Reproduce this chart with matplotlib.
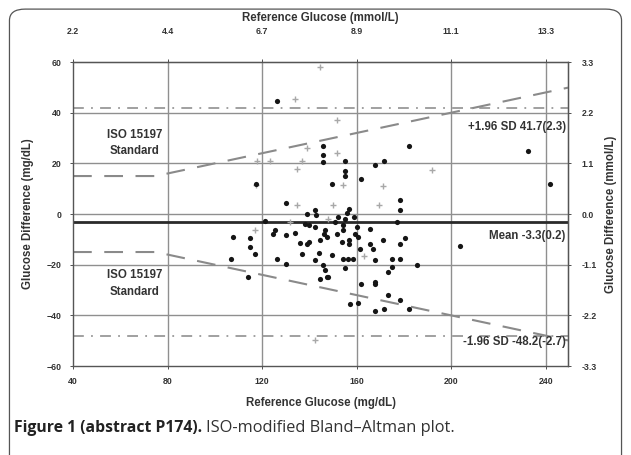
"""
ISO-modified Bland-Altman plot (glucose difference vs reference glucose).
Export: out.png
"""

import matplotlib
matplotlib.use("Agg")
import matplotlib.pyplot as plt
from matplotlib.patches import FancyBboxPatch

plt.rcParams["font.family"] = ["Liberation Sans", "DejaVu Sans"]

# reference glucose (mg/dL) / difference (mg/dL)
black_x = [126.4, 145.8, 145.8, 145.8, 155, 155, 182, 167.8, 171.6, 162, 232.6, 242,
           203.8, 130, 139, 142.4, 143, 149.6, 155, 121.3, 125.5, 124.7, 130, 134, 138,
           140, 142.4, 136, 139, 137, 144, 144.6, 147.5, 146.3, 146.7, 140, 142.4, 145.8,
           146.7, 144.6, 147.5, 154.3, 154.3, 159.4, 153.9, 157, 149.6, 154.3, 156.4,
           158.5, 151.7, 130, 126.4, 115, 115, 117, 107.7, 106.9, 114, 117.5, 178.4,
           178.4, 177, 165.7, 160.6, 155, 157, 161.5, 165.7, 167, 171.2, 180.5, 178.4,
           167.8, 175, 178.4, 185.6, 175, 173.3, 155, 167.8, 162, 148, 157.3, 160.6,
           167.8, 173.4, 178.4, 167.8, 171.6, 182.2, 160, 151, 152, 156, 157, 159]
black_y = [44.7, 27, 23.5, 20.4, 21, 17, 26.7, 19.2, 21, 13.7, 25, 11.8,
           -12.5, 4.3, 0, 1.6, -0.5, 11.8, 15, -2.8, -6.3, -7.8, -8.2, -7.5, -3.9,
           -4.3, -5, -11.4, -11.8, -15.7, -15.3, -10.2, -9, -7.8, -6.3, -11, -18, -20,
           -22, -25.5, -24.7, -4.3, -6.3, -7.8, -11, -10.2, -16, -17.6, -17.6,
           -17.6, -7.8, -19.6, -17.6, -9.4, -12.9, -15.7, -9, -17.6, -24.7, 11.8, 5.5,
           1.6, -3.1, -6, -9, -2, -11.8, -13.7, -12, -13.7, -10.2, -9.4, -11.8,
           -18, -17.6, -17.6, -20, -20.8, -23, -21.5, -26.7, -27.8, -25, -35.7, -35.3,
           -27.5, -31.8, -34, -38.4, -37.6, -37.6, -5, -3, -1, 0.5, 2, -1]

gray_x = [144.6, 134, 151.7, 139, 151.7, 123.4, 118, 135, 137, 192, 117.5, 135,
          154.3, 150, 132, 117, 171, 169.5, 163, 142.4, 148]
gray_y = [58, 45.5, 37.3, 26, 24, 20.8, 20.8, 17.6, 20.8, 17.3, 11.4, 3.5,
          11.4, 3.5, -3.1, -6.3, 11, 3.5, -16.5, -49.8, -2]

mean_diff = -3.3
sd_upper = 41.7
sd_lower = -48.2

# ISO 15197 limits: +/-15 mg/dL below 75 mg/dL, +/-20 % above
iso_x = [40, 75, 249.5]
iso_hi = [15, 15, 0.2 * 249.5]
iso_lo = [-15, -15, -0.2 * 249.5]

x_ticks = [40, 80, 120, 160, 200, 240]
y_ticks = [-60, -40, -20, 0, 20, 40, 60]


def mg_to_mmol(v):
    return v / 18.0


def mmol_to_mg(v):
    return v * 18.0


fig = plt.figure(figsize=(6.31, 4.55), dpi=100)
fig.patches.append(FancyBboxPatch((0.015, -0.05), 0.97, 1.03, boxstyle="round,pad=0,rounding_size=0.025",
                                  transform=fig.transFigure, fc="none", ec="#555555", lw=0.9,
                                  zorder=-1))

ax = fig.add_axes([0.1157, 0.1956, 0.7845, 0.668])
ax.set_xlim(40, 249.5)
ax.set_ylim(-60, 60)

grid_col = "#8f8f8f"
for v in x_ticks[1:]:
    ax.axvline(v, color=grid_col, lw=1.0, zorder=1)
for v in y_ticks[1:-1]:
    ax.axhline(v, color=grid_col, lw=1.0, zorder=1)

ax.axhline(mean_diff, color="#2a2a2a", lw=2.0, zorder=2)
ax.axhline(sd_upper, color="#999999", lw=1.3, ls=(0, (6, 4, 1, 4)), zorder=2)
ax.axhline(sd_lower, color="#999999", lw=1.3, ls=(0, (6, 4, 1, 4)), zorder=2)

ax.plot(iso_x, iso_hi, color="#8a8a8a", lw=1.5, ls=(0, (9, 6)), zorder=2)
ax.plot(iso_x, iso_lo, color="#8a8a8a", lw=1.5, ls=(0, (9, 6)), zorder=2)

ax.scatter(gray_x, gray_y, marker="+", s=22, color="#a8a8a8", lw=1.0, zorder=3)
ax.scatter(black_x, black_y, marker="o", s=14, color="#151515", lw=0, zorder=4)

txt = dict(fontsize=8.3, color="#333333", fontweight="bold")
ax.text(248.5, 34.5, "+1.96 SD 41.7(2.3)", ha="right", va="center", **txt)
ax.text(248.5, -8.8, "Mean -3.3(0.2)", ha="right", va="center", **txt)
ax.text(248.5, -50.6, "-1.96 SD -48.2(-2.7)", ha="right", va="center", **txt)
ax.text(66, 28, "ISO 15197\nStandard", ha="center", va="center", linespacing=1.5, **txt)
ax.text(66, -27.5, "ISO 15197\nStandard", ha="center", va="center", linespacing=1.5, **txt)

tick_kw = dict(labelsize=6.3, length=2, width=0.6, colors="#333333")
lab_kw = dict(fontsize=8.3, fontweight="bold", color="#333333")

ax.set_xticks(x_ticks)
ax.set_yticks(y_ticks)
ax.tick_params(pad=6, **tick_kw)
for lab in ax.get_xticklabels() + ax.get_yticklabels():
    lab.set_fontweight("bold")
for s in ax.spines.values():
    s.set_color("#555555")
    s.set_linewidth(1.0)

ax.set_xlabel("Reference Glucose (mg/dL)", labelpad=8, **lab_kw)
ax.set_ylabel("Glucose Difference (mg/dL)", labelpad=9, **lab_kw)

top = ax.secondary_xaxis("top", functions=(mg_to_mmol, mmol_to_mg))
top.set_xticks([mg_to_mmol(v) for v in x_ticks])
top.set_xticklabels([f"{mg_to_mmol(v):.1f}" for v in x_ticks])
top.tick_params(pad=17, **tick_kw)
top.set_xlabel("Reference Glucose (mmol/L)", labelpad=4, **lab_kw)

right = ax.secondary_yaxis("right", functions=(mg_to_mmol, mmol_to_mg))
right.set_yticks([mg_to_mmol(v) for v in y_ticks])
right.set_yticklabels([f"{mg_to_mmol(v):.1f}" for v in y_ticks])
right.tick_params(pad=8, **tick_kw)
right.set_ylabel("Glucose Difference (mmol/L)", labelpad=6, **lab_kw)
for lab in top.get_xticklabels() + right.get_yticklabels():
    lab.set_fontweight("bold")

# caption: bold lead + regular rest
cap_font = ["Open Sans", "DejaVu Sans"]
t1 = fig.text(0.022, 0.059, "Figure 1 (abstract P174).", fontsize=11.3, fontweight="bold",
              family=cap_font, color="#222222", va="center")
fig.canvas.draw()
bb = t1.get_window_extent()
x_after = bb.x1 / fig.bbox.width
fig.text(x_after + 0.006, 0.059, "ISO-modified Bland\u2013Altman plot.", fontsize=11.8,
         family=cap_font, color="#333333", va="center")

fig.savefig("out.png", dpi=100)
plt.close(fig)
